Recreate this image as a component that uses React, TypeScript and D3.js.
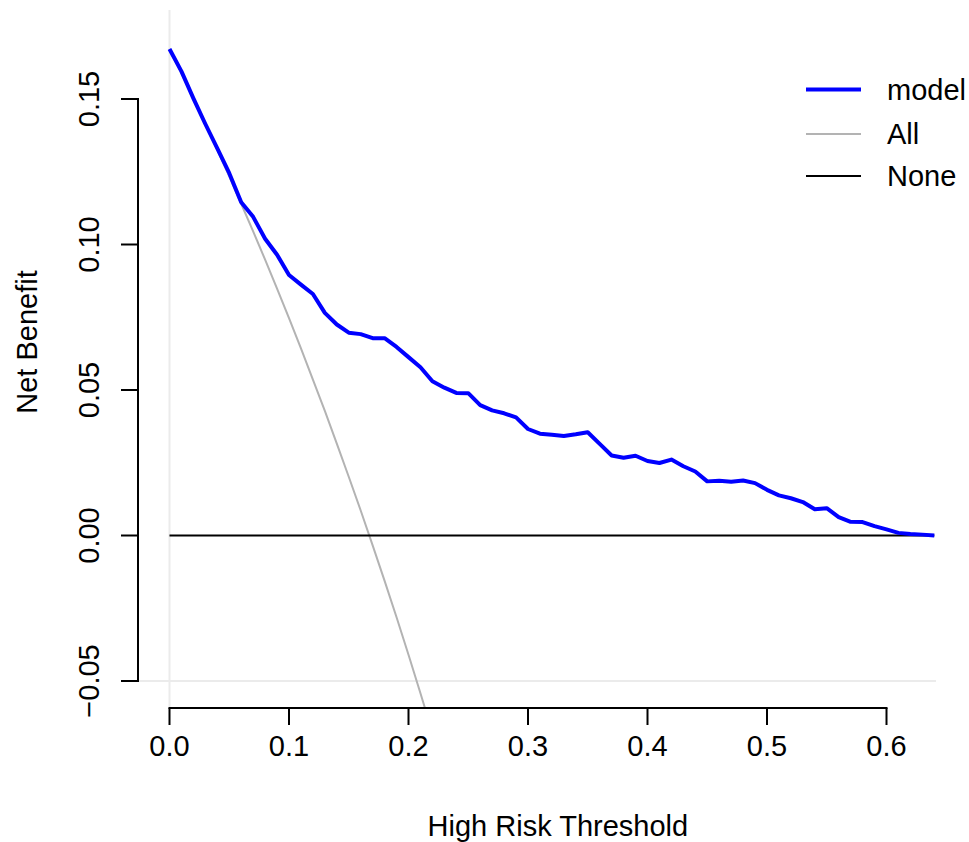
import React from "react";
import * as d3 from "d3";

const thresholds: number[] = [
  0.0, 0.01, 0.02, 0.03, 0.04, 0.05, 0.06, 0.07, 0.08, 0.09,
  0.1, 0.11, 0.12, 0.13, 0.14, 0.15, 0.16, 0.17, 0.18, 0.19,
  0.2, 0.21, 0.22, 0.23, 0.24, 0.25, 0.26, 0.27, 0.28, 0.29,
  0.3, 0.31, 0.32, 0.33, 0.34, 0.35, 0.36, 0.37, 0.38, 0.39,
  0.4, 0.41, 0.42, 0.43, 0.44, 0.45, 0.46, 0.47, 0.48, 0.49,
  0.5, 0.51, 0.52, 0.53, 0.54, 0.55, 0.56, 0.57, 0.58, 0.59,
  0.6, 0.61, 0.62, 0.63, 0.64,
];

const modelNB: number[] = [
  0.1672, 0.1595, 0.1502, 0.1414, 0.1330, 0.1245, 0.1145, 0.1095, 0.1020, 0.0965,
  0.0895, 0.0862, 0.0830, 0.0765, 0.0725, 0.0697, 0.0692, 0.0678, 0.0678, 0.0648,
  0.0613, 0.0578, 0.0530, 0.0508, 0.0490, 0.0489, 0.0448, 0.0430, 0.0420, 0.0406,
  0.0366, 0.0350, 0.0346, 0.0342, 0.0348, 0.0355, 0.0315, 0.0275, 0.0267, 0.0274,
  0.0256, 0.0249, 0.0261, 0.0238, 0.0220, 0.0186, 0.0188, 0.0185, 0.0189, 0.0180,
  0.0157, 0.0138, 0.0128, 0.0115, 0.0090, 0.0094, 0.0063, 0.0047, 0.0046, 0.0032,
  0.0021, 0.0009, 0.0005, 0.0003, 0.0,
];

const allThresholds: number[] = [
  0.0, 0.01, 0.02, 0.03, 0.04, 0.05, 0.06, 0.07, 0.08, 0.09, 0.1,
  0.11, 0.12, 0.13, 0.14, 0.15, 0.16, 0.17, 0.18, 0.19, 0.2, 0.21, 0.22,
];
const allNB: number[] = [
  0.1672, 0.1588, 0.1502, 0.1414, 0.1325, 0.1234, 0.1140, 0.1045, 0.0948, 0.0848, 0.0747,
  0.0643, 0.0536, 0.0428, 0.0316, 0.0202, 0.0086, -0.0034, -0.0156, -0.0281, -0.0410, -0.0542, -0.0677,
];

const noneThresholds: number[] = [0.0, 0.64];
const noneNB: number[] = [0, 0];

const xTicks: number[] = [0.0, 0.1, 0.2, 0.3, 0.4, 0.5, 0.6];
const xTickLabels: string[] = ["0.0", "0.1", "0.2", "0.3", "0.4", "0.5", "0.6"];
const yTicks: number[] = [-0.05, 0.0, 0.05, 0.1, 0.15];
const yTickLabels: string[] = ["\u22120.05", "0.00", "0.05", "0.10", "0.15"];

const legendLabels: string[] = ["model", "All", "None"];

const W = 969;
const H = 842;
const FONT = "'Liberation Sans', Arial, Helvetica, sans-serif";

export default function App() {
  const x = d3.scaleLinear().domain([0, 0.6]).range([169.5, 886.5]);
  const y = d3.scaleLinear().domain([-0.05, 0.15]).range([681, 99]);

  const plotLeft = 138;
  const plotRight = 936;
  const plotTop = 10;
  const plotBottom = 708;
  const tickLen = 17;

  const line = d3
    .line<[number, number]>()
    .x((d) => x(d[0]))
    .y((d) => y(d[1]));

  const modelPath = line(thresholds.map((t, i) => [t, modelNB[i]] as [number, number])) || "";
  const allPath = line(allThresholds.map((t, i) => [t, allNB[i]] as [number, number])) || "";
  const nonePath = line(noneThresholds.map((t, i) => [t, noneNB[i]] as [number, number])) || "";

  const legendStyles = [
    { color: "#0000ff", width: 4 },
    { color: "#b3b3b3", width: 2 },
    { color: "#000000", width: 2 },
  ];
  const legendY = [89.5, 134, 176];

  return (
    <svg
      width={W}
      height={H}
      viewBox={`0 0 ${W} ${H}`}
      style={{ position: "absolute", left: 0, top: 0, background: "#fff" }}
    >
      <defs>
        <clipPath id="plotClip">
          <rect x={plotLeft} y={plotTop} width={plotRight - plotLeft} height={plotBottom - plotTop} />
        </clipPath>
      </defs>
      <rect x={0} y={0} width={W} height={H} fill="#fff" />

      {/* light reference lines */}
      <line x1={x(0)} x2={x(0)} y1={plotTop} y2={plotBottom} stroke="#ebebeb" strokeWidth={2} />
      <line x1={plotLeft} x2={plotRight} y1={y(-0.05)} y2={y(-0.05)} stroke="#ebebeb" strokeWidth={2} />

      <g clipPath="url(#plotClip)">
        <path d={allPath} fill="none" stroke="#b3b3b3" strokeWidth={2} />
        <path d={nonePath} fill="none" stroke="#000" strokeWidth={2} />
        <path d={modelPath} fill="none" stroke="#0000ff" strokeWidth={4} strokeLinejoin="round" />
      </g>

      {/* x axis */}
      <line x1={x(xTicks[0])} x2={x(xTicks[xTicks.length - 1])} y1={plotBottom} y2={plotBottom} stroke="#000" strokeWidth={2} strokeLinecap="square" />
      {xTicks.map((t, i) => (
        <g key={`xt${i}`}>
          <line x1={x(t)} x2={x(t)} y1={plotBottom} y2={plotBottom + tickLen} stroke="#000" strokeWidth={2} />
          <text x={x(t)} y={756} textAnchor="middle" fontFamily={FONT} fontSize={29} fill="#000">
            {xTickLabels[i]}
          </text>
        </g>
      ))}
      <text x={(x(0) + x(0.64)) / 2 + 6} y={836} textAnchor="middle" fontFamily={FONT} fontSize={29} fill="#000">
        High Risk Threshold
      </text>

      {/* y axis */}
      <line x1={plotLeft} x2={plotLeft} y1={y(yTicks[0])} y2={y(yTicks[yTicks.length - 1])} stroke="#000" strokeWidth={2} strokeLinecap="square" />
      {yTicks.map((t, i) => (
        <g key={`yt${i}`}>
          <line x1={plotLeft - tickLen} x2={plotLeft} y1={y(t)} y2={y(t)} stroke="#000" strokeWidth={2} />
          <text
            transform={`translate(99,${y(t)}) rotate(-90)`}
            textAnchor="middle"
            fontFamily={FONT}
            fontSize={29}
            fill="#000"
          >
            {yTickLabels[i]}
          </text>
        </g>
      ))}
      <text
        transform={`translate(37,${(plotTop + plotBottom) / 2 - 17}) rotate(-90)`}
        textAnchor="middle"
        fontFamily={FONT}
        fontSize={29}
        fill="#000"
      >
        Net Benefit
      </text>

      {/* legend */}
      {legendLabels.map((lab, i) => (
        <g key={`lg${i}`}>
          <line x1={806} x2={861} y1={legendY[i]} y2={legendY[i]} stroke={legendStyles[i].color} strokeWidth={legendStyles[i].width} />
          <text x={887} y={legendY[i] + 10} fontFamily={FONT} fontSize={29} fill="#000">
            {lab}
          </text>
        </g>
      ))}
    </svg>
  );
}
